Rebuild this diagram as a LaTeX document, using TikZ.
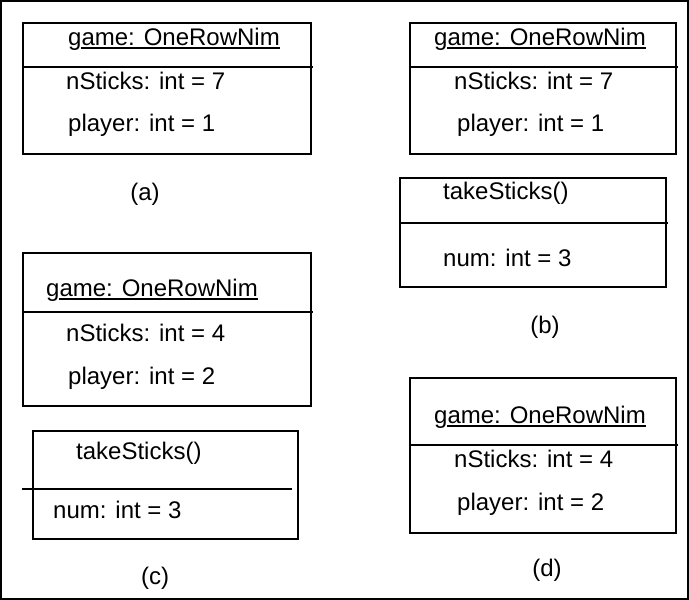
\documentclass[tikz,border=0pt]{standalone}
\usepackage{fontspec}
\setmainfont{Liberation Sans}
\usetikzlibrary{calc}
\begin{document}
\begin{tikzpicture}[x=1pt,y=-1pt,
  txt/.style={anchor=base west,inner sep=0pt,font=\fontsize{24}{28}\selectfont},
  lbl/.style={anchor=base,inner sep=0pt,font=\fontsize{24}{28}\selectfont},
  boxline/.style={line width=1.6pt},
  uline/.style={line width=1.1pt}]
\useasboundingbox (0,0) rectangle (689,600);
\draw[line width=2.5pt] (1,1) rectangle (688,599);
% (a)
\draw[boxline] (23,23) rectangle (311,154);
\draw[boxline] (23,67) -- (313,67);
\node[txt] (ta) at (68,45) {game: OneRowNim};
\draw[uline] ($(ta.base west)+(13,3)$) -- ($(ta.base east)+(0,3)$);
\node[txt] (na) at (66,89) {nSticks: int = 7};
\node[txt] (pa) at (68,131) {player: int = 1};
\node[lbl] (la) at (145,200) {(a)};
% (b)
\draw[boxline] (410,23) rectangle (676,154);
\draw[boxline] (410,67) -- (678,67);
\node[txt] (tb) at (434,45) {game: OneRowNim};
\draw[uline] ($(tb.base west)+(13,3)$) -- ($(tb.base east)+(0,3)$);
\node[txt] (nb) at (454,89) {nSticks: int = 7};
\node[txt] (pb) at (457,131) {player: int = 1};
\draw[boxline] (400,178) rectangle (666,287);
\draw[boxline] (400,223) -- (668,223);
\node[txt] (kb) at (443,199) {takeSticks()};
\node[txt] (mb) at (443,266) {num: int = 3};
\node[lbl] (lb) at (545,333) {(b)};
% (c)
\draw[boxline] (23,253) rectangle (311,406);
\draw[boxline] (23,312) -- (313,312);
\node[txt] (tc) at (46,296) {game: OneRowNim};
\draw[uline] ($(tc.base west)+(13,3)$) -- ($(tc.base east)+(0,3)$);
\node[txt] (nc) at (66,341) {nSticks: int = 4};
\node[txt] (pc) at (68,384) {player: int = 2};
\draw[boxline] (33,431) rectangle (298,539);
\draw[boxline] (22,489) -- (292,489);
\node[txt] (kc) at (76,459) {takeSticks()};
\node[txt] (mc) at (53,518) {num: int = 3};
\node[lbl] (lc) at (155,584) {(c)};
% (d)
\draw[boxline] (410,378) rectangle (676,533);
\draw[boxline] (410,445) -- (678,445);
\node[txt] (td) at (434,423) {game: OneRowNim};
\draw[uline] ($(td.base west)+(13,3)$) -- ($(td.base east)+(0,3)$);
\node[txt] (nd) at (454,467) {nSticks: int = 4};
\node[txt] (pd) at (457,510) {player: int = 2};
\node[lbl] (ld) at (547,576) {(d)};
\end{tikzpicture}
\end{document}
